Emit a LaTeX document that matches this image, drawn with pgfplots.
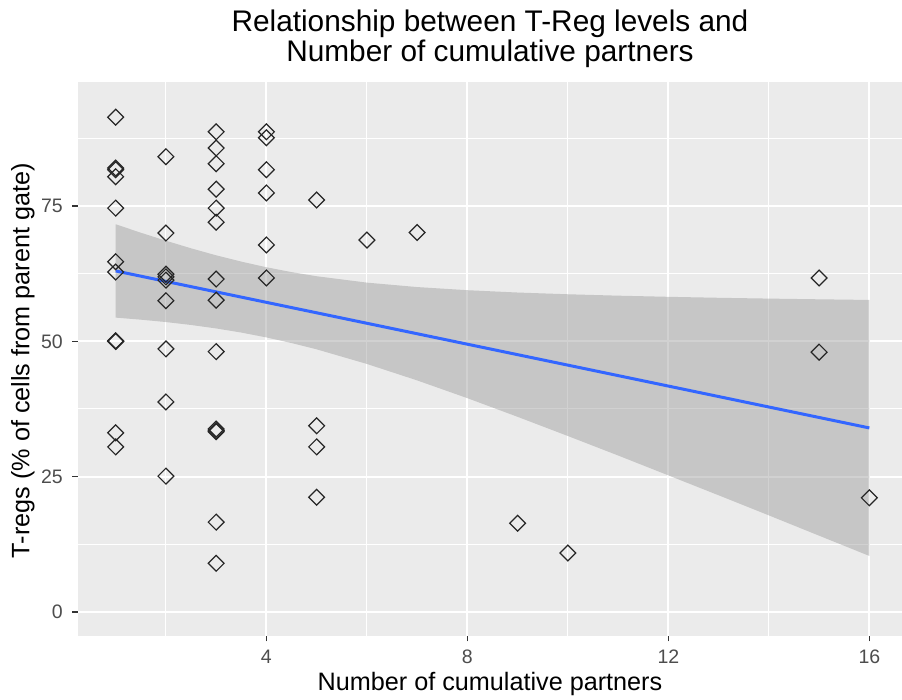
\documentclass[border=0pt]{standalone}
\usepackage{pgfplots}
\pgfplotsset{compat=1.18}
\usepackage{fontspec}
\setmainfont{Liberation Sans}
\definecolor{panel}{HTML}{EBEBEB}
\definecolor{ticklab}{HTML}{4D4D4D}
\definecolor{tickcol}{HTML}{333333}
\definecolor{smooth}{HTML}{3366FF}
\definecolor{ribbon}{HTML}{999999}
\begin{document}
\begin{tikzpicture}
\path[use as bounding box, fill=white] (-78pt,-64pt) rectangle (824pt,636pt);
\begin{axis}[
  scale only axis,
  width=824pt, height=554pt,
  xmin=0.25, xmax=16.65,
  ymin=-4.43, ymax=97.9,
  axis background/.style={fill=panel},
  axis line style={draw=none},
  xtick={4,8,12,16},
  ytick={0,25,50,75},
  minor xtick={2,6,10,14},
  minor ytick={12.5,37.5,62.5,87.5},
  grid=both,
  major grid style={white, line width=2pt},
  minor grid style={white, line width=1pt},
  tick align=outside,
  major tick length=5.5pt,
  minor tick length=0pt,
  tick style={tickcol, line width=1.1pt},
  xtick pos=bottom, ytick pos=left,
  /pgf/number format/assume math mode=true,
  ticklabel style={font=\fontsize{19.5}{20}\selectfont, text=ticklab},
  xticklabel style={anchor=north, inner sep=0pt, yshift=-8.5pt},
  yticklabel style={anchor=east, inner sep=0pt, xshift=-9.5pt},
  xlabel={Number of cumulative partners},
  ylabel={T-regs (\% of cells from parent gate)},
  every axis x label/.style={at={(axis description cs:0.5,-0.0866)}, anchor=center, font=\fontsize{25.2}{26}\selectfont},
  every axis y label/.style={at={(axis description cs:-0.067,0.497)}, rotate=90, anchor=center, font=\fontsize{25.2}{26}\selectfont},
  title={Relationship between T-Reg levels and\\Number of cumulative partners},
  title style={at={(axis description cs:0.5,1.068)}, anchor=center, align=center, font=\fontsize{29.8}{30}\selectfont},
]
% data points
\addplot[only marks, mark=square, mark size=5.6pt, mark options={rotate=45, draw=black!85, line width=1.2pt, fill=none}] coordinates {
(1,91.4) (1,82.0) (1,81.7) (1,80.4) (1,74.6) (1,64.7) (1,62.8) (1,50.0) (1,50.0) (1,50.1) (1,33.1) (1,30.5)
(2,84.1) (2,70.0) (2,62.4) (2,61.9) (2,61.3) (2,57.5) (2,48.6) (2,38.8) (2,25.1)
(3,88.7) (3,85.7) (3,82.8) (3,78.1) (3,74.6) (3,72.0) (3,61.5) (3,57.6) (3,48.1) (3,33.8) (3,33.5) (3,33.3) (3,16.6) (3,9.0)
(4,88.7) (4,87.6) (4,81.7) (4,77.4) (4,67.8) (4,61.7)
(5,76.1) (5,34.4) (5,30.5) (5,21.2)
(6,68.7) (7,70.1) (9,16.4) (10,10.9)
(15,61.7) (15,48.0) (16,21.1)
};
% confidence ribbon
\addplot[draw=none, fill=ribbon, fill opacity=0.45] coordinates {
(1,71.62) (1.5,70.06) (2,68.58) (2.5,67.18) (3,65.88) (3.5,64.72) (4,63.68) (4.5,62.78) (5,62.02) (6,60.84) (7,60.02) (8,59.44) (9,59.01) (10,58.69) (11,58.43) (12,58.22) (13,58.04) (14,57.89) (15,57.76) (16,57.64)
(16,10.36) (15,14.10) (14,17.85) (13,21.56) (12,25.24) (11,28.91) (10,32.51) (9,36.05) (8,39.50) (7,42.78) (6,45.82) (5,48.52) (4.5,49.68) (4,50.72) (3.5,51.62) (3,52.38) (2.5,53.02) (2,53.56) (1.5,54.00) (1,54.38)
} -- cycle;
% fitted line
\addplot[color=smooth, line width=3pt, mark=none] coordinates {(1,63.0) (16,34.0)};
\end{axis}
\end{tikzpicture}
\end{document}
